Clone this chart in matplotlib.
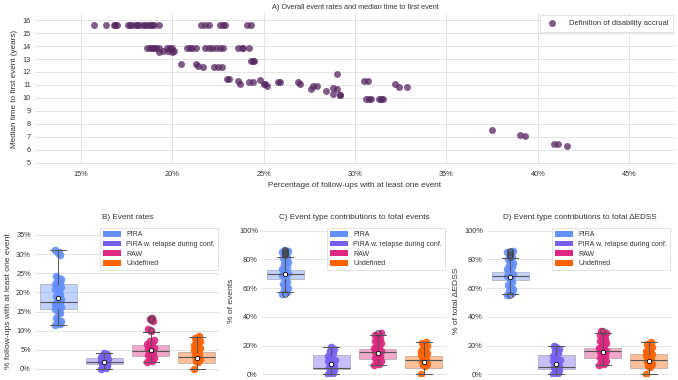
import matplotlib
matplotlib.use("Agg")
import matplotlib.pyplot as plt
import numpy as np
from matplotlib.patches import Patch
from matplotlib.ticker import PercentFormatter, MultipleLocator

# ---- panel A: overall event rate (%) vs median time to first event (years)
rate_overall = [
    15.7, 16.4, 16.8, 16.9, 17.0, 17.6, 17.7, 17.8, 18.0, 18.1, 18.2, 18.4, 18.5, 18.7, 18.8, 18.9, 19.0, 19.3,
    21.6, 21.8, 22.0, 22.6, 22.8, 22.9, 24.1, 24.3,
    18.6, 18.8, 18.9, 19.0, 19.1, 19.3, 19.7, 19.9, 20.0, 20.8, 21.0, 21.1, 21.3, 21.8, 22.0, 22.2, 22.4,
    22.6, 22.8, 23.6, 23.8, 23.9, 24.2,
    19.3, 19.5, 19.8, 20.0, 20.1,
    20.5, 21.3, 21.4, 21.7, 22.3, 22.5, 22.7,
    24.3, 24.4, 24.5,
    23.0, 23.1,
    23.6, 23.7, 24.2, 24.4, 24.8, 25.0, 25.1, 25.2, 25.8, 25.9, 26.9, 27.0, 27.6, 27.7, 27.9, 28.4, 28.8,
    28.8, 29.0, 29.0, 29.2, 29.2,
    30.5, 30.7, 30.6, 30.75, 30.9, 31.3, 31.4, 31.55, 32.2, 32.4, 32.85,
    37.5, 39.0, 39.3, 40.9, 41.1, 41.6,
]
median_time = [
    15.65, 15.65, 15.65, 15.65, 15.65, 15.65, 15.65, 15.65, 15.65, 15.65, 15.65, 15.65, 15.65, 15.65, 15.65, 15.65, 15.65, 15.65,
    15.65, 15.65, 15.65, 15.65, 15.65, 15.65, 15.65, 15.65,
    13.85, 13.85, 13.85, 13.85, 13.85, 13.85, 13.85, 13.85, 13.85, 13.85, 13.85, 13.85, 13.85, 13.85, 13.85, 13.85, 13.85,
    13.85, 13.85, 13.85, 13.85, 13.85, 13.85,
    13.55, 13.6, 13.6, 13.55, 13.65,
    12.65, 12.65, 12.45, 12.4, 12.4, 12.4, 12.4,
    12.85, 12.85, 12.85,
    11.45, 11.45,
    11.3, 11.1, 11.25, 11.25, 11.4, 11.1, 11.05, 10.9, 11.25, 11.25, 11.25, 11.1, 10.7, 10.9, 10.95, 10.55, 10.3,
    10.8, 10.7, 11.85, 10.2, 10.25,
    11.3, 11.3, 9.95, 9.95, 9.95, 9.9, 9.9, 9.9, 11.05, 10.85, 10.85,
    7.5, 7.1, 7.05, 6.45, 6.45, 6.3,
]

# ---- panels B-D
event_types = ["PIRA", "PIRA w. relapse during conf.", "RAW", "Undefined"]
type_colors = ["#648FFF", "#785EF0", "#DC267F", "#FE6100"]

# B) event rates (% follow-ups with at least one event)
b_points = [
    [11.5, 11.8, 12.1, 12.5, 12.9, 13.3, 14.6, 15.0, 15.4, 15.8, 16.2, 16.6, 17.0, 17.4, 17.8, 18.2, 18.6, 19.0,
     19.5, 20.2, 20.6, 21.0, 21.4, 21.8, 22.2, 22.6, 23.0, 23.4, 23.8, 24.3, 29.8, 30.2, 30.6, 31.1],
    [0.0, 0.3, 0.6, 0.9, 1.2, 1.4, 1.6, 1.8, 2.0, 2.2, 2.5, 2.8, 3.1, 3.4, 3.7, 4.0, 4.3],
    [1.7, 2.0, 2.4, 2.8, 3.2, 3.6, 4.0, 4.4, 4.8, 5.2, 5.6, 6.0, 6.4, 6.8, 7.2, 7.6, 10.0, 10.4, 12.6, 13.0, 13.4],
    [0.0, 1.8, 2.2, 2.6, 3.0, 3.4, 3.8, 4.2, 4.6, 5.0, 5.4, 5.8, 6.2, 6.6, 7.0, 7.4, 7.8, 8.2, 8.5],
]
b_whislo = [11.5, 0.0, 1.7, 0.0]
b_q1 = [15.6, 1.2, 3.3, 1.5]
b_med = [17.6, 1.8, 4.6, 3.2]
b_q3 = [22.2, 2.9, 6.2, 4.35]
b_whishi = [31.1, 4.3, 9.7, 8.4]
b_mean = [18.6, 1.9, 5.0, 2.95]
b_fliers = [[], [], [10.3, 12.8, 13.4], []]

# C) contributions to total events (%)
c_points = [
    [56.0, 57.0, 58.5, 60.0, 61.5, 63.0, 64.5, 66.0, 67.5, 69.0, 70.5, 72.0, 73.5, 75.0, 76.5, 78.0, 79.5,
     81.0, 82.0, 83.0, 84.0, 85.0, 86.0, 86.5],
    [0.0, 1.0, 2.0, 3.0, 4.0, 5.0, 6.0, 7.0, 8.0, 9.0, 10.0, 11.5, 13.0, 14.5, 16.0, 17.5, 19.0],
    [6.5, 7.5, 8.5, 9.5, 10.5, 11.5, 12.5, 13.5, 14.5, 15.5, 16.5, 17.5, 18.5, 19.5, 20.5, 21.5, 22.5,
     23.5, 24.5, 25.5, 26.5, 27.5, 28.5],
    [0.0, 5.5, 6.5, 7.5, 8.5, 9.5, 10.5, 11.5, 12.5, 13.5, 14.5, 15.5, 16.5, 17.5, 18.5, 19.5, 20.5, 21.5, 22.3],
]
c_whislo = [57.0, 0.0, 6.5, 0.0]
c_q1 = [66.4, 3.7, 10.6, 4.6]
c_med = [69.6, 4.6, 15.3, 10.0]
c_q3 = [72.6, 13.4, 17.6, 12.7]
c_whishi = [82.0, 19.2, 27.4, 22.3]
c_mean = [69.6, 7.2, 15.0, 8.8]
c_fliers = [[56.0, 83.0, 83.6, 84.2, 84.8, 85.4, 86.0, 86.5], [], [28.5], []]

# D) contributions to total delta EDSS (%)
d_points = [
    [55.0, 56.5, 58.0, 59.5, 61.0, 62.5, 64.0, 65.5, 67.0, 68.5, 70.0, 71.5, 73.0, 74.5, 76.0, 77.5, 79.0,
     80.5, 82.0, 83.0, 84.0, 85.0, 86.0],
    [0.0, 1.0, 2.0, 3.0, 4.0, 5.0, 6.0, 7.0, 8.0, 9.0, 10.0, 11.5, 13.0, 14.5, 16.0, 17.5, 19.0, 19.7],
    [6.5, 7.5, 8.5, 9.5, 10.5, 11.5, 12.5, 13.5, 14.5, 15.5, 16.5, 17.5, 18.5, 19.5, 20.5, 21.5, 22.5,
     23.5, 24.5, 25.5, 26.5, 27.5, 28.5, 30.2],
    [0.0, 5.0, 6.0, 7.0, 8.0, 9.0, 10.0, 11.0, 12.0, 13.0, 14.0, 15.0, 16.0, 17.0, 18.0, 19.0, 20.0, 21.0, 22.3],
]
d_whislo = [55.7, 0.0, 6.5, 0.0]
d_q1 = [65.7, 3.5, 11.1, 4.2]
d_med = [68.5, 4.9, 16.2, 10.0]
d_q3 = [71.5, 13.4, 18.5, 13.9]
d_whishi = [80.8, 19.7, 28.5, 22.3]
d_mean = [68.0, 7.2, 15.7, 9.3]
d_fliers = [[55.0, 82.0, 83.0, 84.0, 85.0, 86.0], [], [30.2], []]

plt.rcParams["font.family"] = ["Liberation Sans", "DejaVu Sans"]
TXT = "#333333"
GRID = "#e3e3e3"

fig = plt.figure(figsize=(6.78, 3.8), dpi=100)


def style_axes(ax):
    for s in ax.spines.values():
        s.set_visible(False)
    ax.set_facecolor("white")
    ax.tick_params(length=0, labelsize=5.3, labelcolor=TXT, pad=3)
    ax.set_axisbelow(True)


def make_legend(ax, *args, **kw):
    leg = ax.legend(*args, loc="upper right", frameon=True, fancybox=False, framealpha=1,
                    edgecolor="#dddddd", borderaxespad=0.3, **kw)
    leg.get_frame().set_linewidth(0.6)
    leg.set_zorder(10)
    for t in leg.get_texts():
        t.set_color(TXT)
    return leg


# ---------------- A
axA = fig.add_axes([35 / 678, 1 - 164 / 380, 640 / 678, 151 / 380])
style_axes(axA)
axA.tick_params(axis="x", pad=5)
axA.grid(True, color=GRID, lw=0.7)
axA.scatter(rate_overall, median_time, s=25, color="#552660", alpha=0.75, lw=0,
            label="Definition of disability accrual", zorder=3)
axA.set_xlim(12.5, 47.5)
axA.set_ylim(4.9, 16.55)
axA.xaxis.set_major_locator(MultipleLocator(5))
axA.yaxis.set_major_locator(MultipleLocator(1))
axA.xaxis.set_major_formatter(PercentFormatter(decimals=0))
axA.set_xlabel("Percentage of follow-ups with at least one event", fontsize=5.9, color=TXT, labelpad=3)
axA.set_ylabel("Median time to first event (years)", fontsize=5.9, color=TXT, labelpad=3)
axA.set_title("A) Overall event rates and median time to first event", fontsize=5.2, color=TXT, pad=3)
make_legend(axA, fontsize=5.5, handletextpad=1.2, borderpad=0.6)

# ---------------- B, C, D
jit = np.array([-0.07, 0.03, -0.02, 0.065, 0.0, -0.05, 0.05, -0.01, 0.02, -0.065, 0.07, -0.035])


def box_panel(ax, points, whislo, q1, med, q3, whishi, mean, fliers, ylim, ytick, title, ylabel):
    style_axes(ax)
    ax.grid(True, axis="y", color=GRID, lw=0.7)
    ax.grid(False, axis="x")
    stats = []
    for i in range(len(event_types)):
        stats.append(dict(whislo=whislo[i], q1=q1[i], med=med[i], q3=q3[i], whishi=whishi[i],
                          mean=mean[i], fliers=fliers[i]))
    bp = ax.bxp(stats, positions=range(4), widths=0.8, capwidths=0.35, patch_artist=True, showmeans=True,
                boxprops=dict(edgecolor="#777777", linewidth=0.7),
                whiskerprops=dict(color="#555555", linewidth=0.7),
                capprops=dict(color="#555555", linewidth=0.7),
                medianprops=dict(color="#555555", linewidth=0.8),
                meanprops=dict(marker="o", markerfacecolor="white", markeredgecolor="black",
                               markersize=3.2, markeredgewidth=0.6),
                flierprops=dict(marker="o", markerfacecolor="none", markeredgecolor="#444444",
                                markersize=4, markeredgewidth=0.7))
    for patch, col in zip(bp["boxes"], type_colors):
        patch.set_facecolor(col)
        patch.set_alpha(0.4)
        patch.set_zorder(1)
    for key in ["whiskers", "caps", "medians"]:
        for ln in bp[key]:
            ln.set_zorder(3)
    for ln in bp["means"]:
        ln.set_zorder(5)
    for ln in bp["fliers"]:
        ln.set_zorder(4)
    for i, vals in enumerate(points):
        xs = i + np.resize(jit, len(vals))
        ax.scatter(xs, vals, s=30, color=type_colors[i], alpha=0.9, lw=0, zorder=2)
    ax.set_xlim(-0.5, 3.5)
    ax.set_xticks([])
    ax.set_ylim(*ylim)
    ax.yaxis.set_major_locator(MultipleLocator(ytick))
    ax.yaxis.set_major_formatter(PercentFormatter(decimals=0))
    ax.set_title(title, fontsize=5.9, color=TXT, pad=5)
    ax.set_ylabel(ylabel, fontsize=6.1, color=TXT, labelpad=3)
    handles = [Patch(facecolor=c, edgecolor="none") for c in type_colors]
    make_legend(ax, handles, event_types, fontsize=5, handlelength=2.6, handleheight=0.9, labelspacing=0.35)


axB = fig.add_axes([35 / 678, 4 / 380, 185 / 678, 150 / 380])
axC = fig.add_axes([262 / 678, 4 / 380, 185 / 678, 150 / 380])
axD = fig.add_axes([487 / 678, 4 / 380, 185 / 678, 150 / 380])
box_panel(axB, b_points, b_whislo, b_q1, b_med, b_q3, b_whishi, b_mean, b_fliers,
          (-1.83, 37.35), 5, "B) Event rates", "% follow-ups with at least one event")
box_panel(axC, c_points, c_whislo, c_q1, c_med, c_q3, c_whishi, c_mean, c_fliers,
          (-1.2, 103.3), 20, "C) Event type contributions to total events", "% of events")
box_panel(axD, d_points, d_whislo, d_q1, d_med, d_q3, d_whishi, d_mean, d_fliers,
          (-1.2, 103.3), 20, "D) Event type contributions to total \u0394EDSS", "% of total \u0394EDSS")

fig.savefig("out.png", dpi=100)
